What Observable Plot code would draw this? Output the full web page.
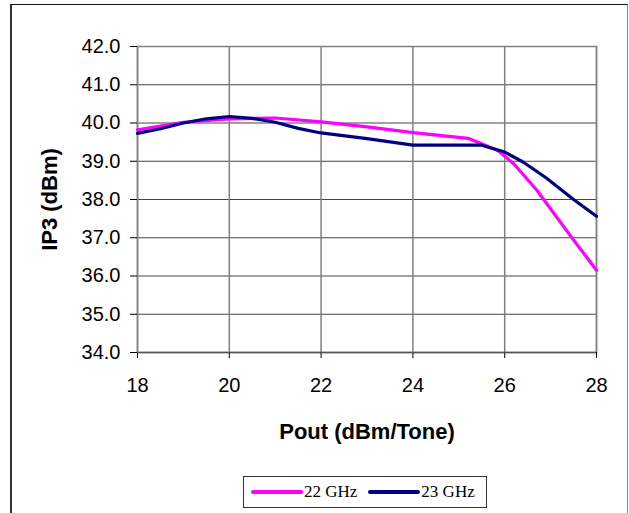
<!DOCTYPE html>
<html>
<head>
<meta charset="utf-8">
<script src="https://cdn.jsdelivr.net/npm/d3@7"></script>
<script src="https://cdn.jsdelivr.net/npm/@observablehq/plot@0.6"></script>
<style>
  html, body { margin: 0; padding: 0; background: #fff; overflow: hidden; }
  #frame { position: absolute; left: 10px; top: 4px; width: 615px; height: 530px;
    border-left: 2px solid #333; border-top: 1.5px solid #111; border-right: 1.5px solid #888; }
  #chart { position: absolute; left: 0; top: 0; }
  g[aria-label="x-axis label"] text, g[aria-label="y-axis label"] text { font-weight: bold; font-size: 22px; }
  g[aria-label="x-axis label"], g[aria-label="y-axis label"] { font-weight: bold; font-size: 22px; }
  #legend { position: absolute; left: 243px; top: 476px; width: 244px; height: 32px;
    border: 1px solid #333; box-sizing: border-box; font-family: "Liberation Serif", "Times New Roman", serif;
    font-size: 17px; display: flex; align-items: center; padding-left: 7px; }
  .item { display: flex; align-items: center; }
  .swatch { display: inline-block; width: 52px; height: 3.5px; margin-right: 1px; border-radius: 2px; }
</style>
</head>
<body>
<div id="frame"></div>
<div id="chart"></div>
<div id="legend"></div>
<script>
const seriesNames = ["22 GHz", "23 GHz"];
const seriesColors = ["#FF00FF", "#000080"];

const x22 = [18, 19, 20, 21, 22, 23, 24, 25.2, 25.85, 26.2, 26.7, 27.4, 28];
const y22 = [39.82, 40.02, 40.11, 40.13, 40.03, 39.9, 39.75, 39.6, 39.28, 38.93, 38.24, 37.1, 36.15];

const x23 = [18, 18.5, 19, 19.5, 20, 20.5, 21, 21.5, 22, 23, 24, 25.5, 26, 26.4, 26.9, 27.5, 28];
const y23 = [39.73, 39.85, 40.0, 40.11, 40.17, 40.12, 40.02, 39.86, 39.74, 39.59, 39.42, 39.42, 39.24, 38.98, 38.57, 38.0, 37.56];

const xTicks = [18, 20, 22, 24, 26, 28];
const yTicks = [34, 35, 36, 37, 38, 39, 40, 41, 42];

const data = [
  ...x22.map((x, i) => ({series: seriesNames[0], x, y: y22[i]})),
  ...x23.map((x, i) => ({series: seriesNames[1], x, y: y23[i]}))
];

const chart = Plot.plot({
  width: 629,
  height: 470,
  marginLeft: 137,
  marginRight: 33,
  marginTop: 46,
  marginBottom: 118,
  style: {fontFamily: "'Liberation Sans', Arial, sans-serif", fontSize: "20px", color: "black", background: "transparent", overflow: "visible"},
  x: {domain: [18, 28]},
  y: {domain: [34, 42]},
  color: {domain: seriesNames, range: seriesColors},
  marks: [
    Plot.gridY(yTicks, {stroke: "#444", strokeOpacity: 1, strokeWidth: 1}),
    Plot.gridX(xTicks, {stroke: "#808080", strokeOpacity: 1, strokeWidth: 1.5}),
    Plot.frame({stroke: "#808080", strokeWidth: 1.5}),
    Plot.line(data, {x: "x", y: "y", z: "series", stroke: "series", strokeWidth: 3.2, strokeLinejoin: "round"}),
    Plot.axisY({ticks: yTicks, tickFormat: d3.format(".1f"), tickSize: 7, tickPadding: 10,
      label: "IP3 (dBm)", labelAnchor: "center", labelArrow: "none", labelOffset: 96}),
    Plot.axisX({ticks: xTicks, tickSize: 6, tickPadding: 19,
      label: "Pout (dBm/Tone)", labelAnchor: "center", labelArrow: "none", labelOffset: 86}),
    Plot.ruleY([34], {stroke: "#555", strokeWidth: 1.5})
  ]
});
document.getElementById("chart").appendChild(chart);

const legend = document.getElementById("legend");
seriesNames.forEach((name, i) => {
  const item = document.createElement("span");
  item.className = "item";
  const sw = document.createElement("span");
  sw.className = "swatch";
  sw.style.background = seriesColors[i];
  item.appendChild(sw);
  item.appendChild(document.createTextNode(name));
  if (i === 0) item.style.marginRight = "11px";
  legend.appendChild(item);
});
</script>
</body>
</html>
